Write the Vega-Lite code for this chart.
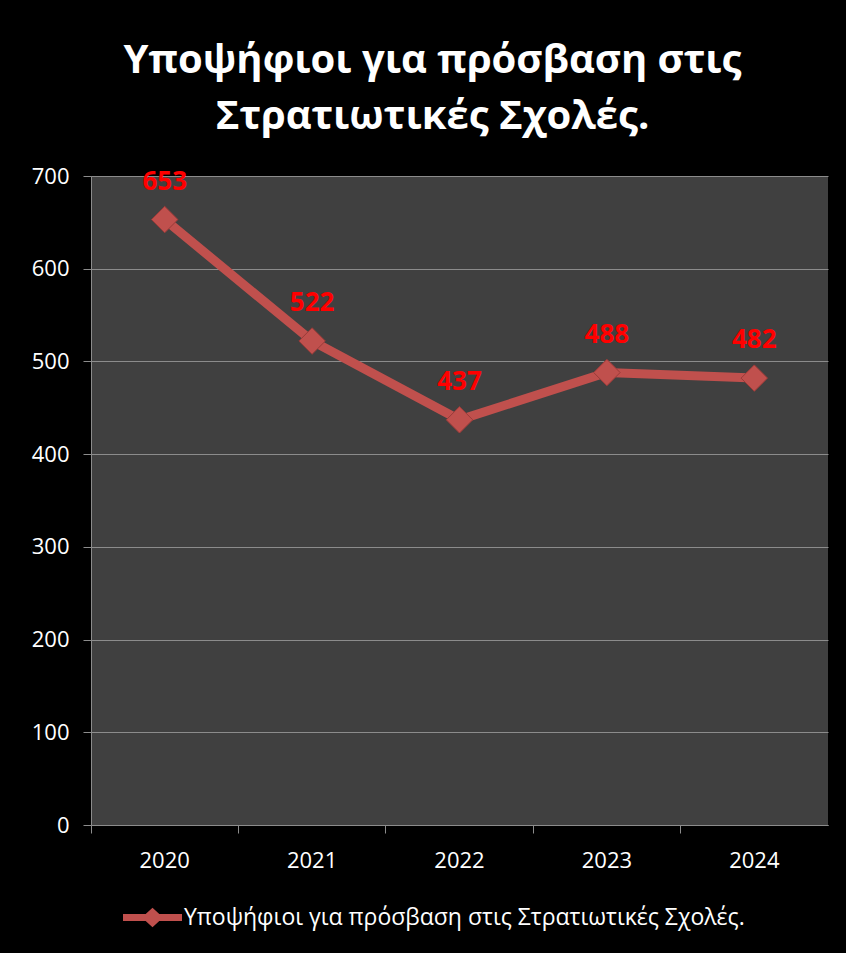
{
  "$schema": "https://vega.github.io/schema/vega-lite/v6.json",
  "width": 737,
  "height": 649,
  "autosize": {"type": "none"},
  "padding": {"left": 91, "top": 176, "right": 18, "bottom": 128},
  "background": "#000000",
  "title": {
    "text": ["Υποψήφιοι για πρόσβαση στις", "Στρατιωτικές Σχολές."],
    "color": "#ffffff",
    "font": "Open Sans",
    "fontSize": 40,
    "fontWeight": "bold",
    "anchor": "middle",
    "lineHeight": 56,
    "offset": 28,
    "dx": -27
  },
  "config": {
    "view": {"fill": "#404040", "stroke": null},
    "axis": {
      "labelColor": "#ffffff",
      "labelFont": "Open Sans",
      "labelFontSize": 22,
      "domainColor": "#8c8c8c",
      "tickColor": "#8c8c8c",
      "tickSize": 8,
      "gridColor": "#8c8c8c",
      "title": null
    }
  },
  "data": {
    "values": [
      {"year": "2020", "value": 653, "series": "Υποψήφιοι για πρόσβαση στις Στρατιωτικές Σχολές."},
      {"year": "2021", "value": 522, "series": "Υποψήφιοι για πρόσβαση στις Στρατιωτικές Σχολές."},
      {"year": "2022", "value": 437, "series": "Υποψήφιοι για πρόσβαση στις Στρατιωτικές Σχολές."},
      {"year": "2023", "value": 488, "series": "Υποψήφιοι για πρόσβαση στις Στρατιωτικές Σχολές."},
      {"year": "2024", "value": 482, "series": "Υποψήφιοι για πρόσβαση στις Στρατιωτικές Σχολές."}
    ]
  },
  "encoding": {
    "x": {
      "field": "year",
      "type": "ordinal",
      "scale": {"type": "band", "paddingInner": 0, "paddingOuter": 0},
      "axis": {"labelAngle": 0, "bandPosition": 0, "labelPadding": 17, "grid": false}
    },
    "y": {
      "field": "value",
      "type": "quantitative",
      "scale": {"domain": [0, 700]},
      "axis": {"values": [0, 100, 200, 300, 400, 500, 600, 700], "labelPadding": 14, "grid": true}
    }
  },
  "layer": [
    {
      "mark": {"type": "line", "strokeWidth": 9},
      "encoding": {
        "color": {
          "field": "series",
          "type": "nominal",
          "scale": {"range": ["#c0504d"]},
          "legend": {
            "orient": "none",
            "legendX": 32,
            "legendY": 712,
            "title": null,
            "labelColor": "#ffffff",
            "labelFont": "Open Sans",
            "labelFontSize": 23,
            "labelOffset": 2,
            "labelLimit": 0,
            "symbolSize": 3481,
            "symbolType": "M-1,-0.12L1,-0.12L1,0.12L-1,0.12Z M0,-0.33L0.36,0L0,0.33L-0.36,0Z",
            "symbolFillColor": "#c0504d",
            "symbolStrokeColor": "#c0504d",
            "symbolStrokeWidth": 0,
            "symbolOpacity": 1
          }
        }
      }
    },
    {
      "mark": {"type": "point", "shape": "diamond", "filled": true, "size": 700, "opacity": 1, "stroke": "#9a3b39", "strokeWidth": 1},
      "encoding": {
        "color": {"field": "series", "type": "nominal"}
      }
    },
    {
      "mark": {"type": "text", "dy": -38, "color": "#ff0000", "font": "Open Sans", "fontSize": 26, "fontWeight": "bold"},
      "encoding": {
        "text": {"field": "value", "type": "quantitative"}
      }
    }
  ]
}
